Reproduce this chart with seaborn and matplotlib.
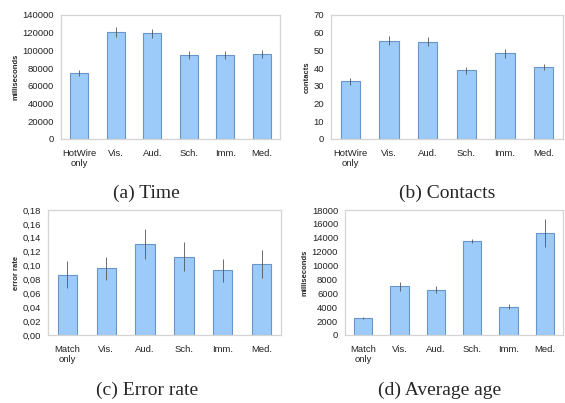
import numpy as np
import pandas as pd
import seaborn as sns
import matplotlib.pyplot as plt
from matplotlib.ticker import FuncFormatter

# condition labels
labels_hw = ["HotWire\nonly", "Vis.", "Aud.", "Sch.", "Imm.", "Med."]
labels_match = ["Match\nonly", "Vis.", "Aud.", "Sch.", "Imm.", "Med."]

# (a) completion time in ms
time_vals = [75000, 121200, 119300, 95000, 95000, 96000]
time_err = [3400, 5600, 5200, 4500, 4500, 4500]

# (b) contacts
contact_vals = [32.5, 55.5, 55.0, 38.7, 48.4, 40.5]
contact_err = [1.9, 2.6, 2.6, 2.0, 2.5, 1.8]

# (c) error rate
error_vals = [0.087, 0.096, 0.131, 0.113, 0.093, 0.102]
error_err = [0.020, 0.017, 0.022, 0.021, 0.017, 0.020]

# (d) average age in ms
age_vals = [2400, 7050, 6530, 13540, 4080, 14740]
age_err = [150, 650, 500, 300, 350, 2000]

BAR = "#9ccbfa"
EDGE = "#6b95c8"
FRAME = "#d4d4d4"
W, H = 565, 403


def box(left, top, right, bottom):
    return [left / W, 1 - bottom / H, (right - left) / W, (bottom - top) / H]


def panel(ax, cats, vals, errs, ylabel, ymax, step, fmt=None):
    df = pd.DataFrame({"cond": cats, "value": vals})
    sns.barplot(data=df, x="cond", y="value", color=BAR, edgecolor=EDGE,
                linewidth=0.8, width=0.5, errorbar=None, saturation=1, ax=ax)
    ax.errorbar(np.arange(len(vals)), vals, yerr=errs, fmt="none",
                ecolor="#555555", elinewidth=0.6, capsize=0)
    ax.set_xlim(-0.5, len(vals) - 0.5)
    ax.set_ylim(0, ymax)
    ax.set_yticks(np.arange(0, ymax + step / 2, step))
    if fmt is not None:
        ax.yaxis.set_major_formatter(FuncFormatter(fmt))
    ax.set_xlabel("")
    ax.set_ylabel(ylabel, fontsize=5.5, fontweight="bold", labelpad=2)
    ax.tick_params(axis="both", labelsize=6.8, length=0, colors="#222222")
    ax.tick_params(axis="x", pad=7)
    ax.tick_params(axis="y", pad=5)
    for s in ax.spines.values():
        s.set_color(FRAME)
        s.set_linewidth(0.9)
    ax.grid(False)


sns.set_theme(style="white")
plt.rcParams["font.family"] = ["Liberation Sans", "DejaVu Sans"]

fig = plt.figure(figsize=(W / 100, H / 100), dpi=100)
fig.patch.set_facecolor("white")

ax_a = fig.add_axes(box(61, 15, 280, 139))
ax_b = fig.add_axes(box(331, 15, 563, 139))
ax_c = fig.add_axes(box(48, 210, 281, 335))
ax_d = fig.add_axes(box(345, 210, 563, 335))

panel(ax_a, labels_hw, time_vals, time_err, "milliseconds", 140000, 20000)
panel(ax_b, labels_hw, contact_vals, contact_err, "contacts", 70, 10)
panel(ax_c, labels_match, error_vals, error_err, "error rate", 0.18, 0.02,
      fmt=lambda v, p: f"{v:.2f}".replace(".", ","))
panel(ax_d, labels_match, age_vals, age_err, "milliseconds", 18000, 2000)

cap = dict(ha="center", va="center", fontsize=14, family=["Liberation Serif", "DejaVu Serif"])
fig.text(146 / W, 1 - 193 / H, "(a) Time", **cap)
fig.text(447 / W, 1 - 193 / H, "(b) Contacts", **cap)
fig.text(147 / W, 1 - 390 / H, "(c) Error rate", **cap)
fig.text(440 / W, 1 - 390 / H, "(d) Average age", **cap)

fig.savefig("out.png", dpi=100)
plt.close(fig)
